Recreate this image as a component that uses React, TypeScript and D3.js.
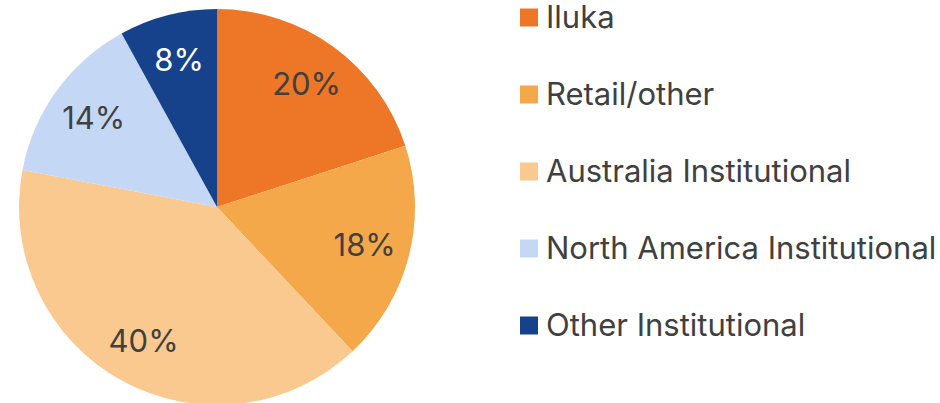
import React from "react";
import * as d3 from "d3";

const categories = ["Iluka", "Retail/other", "Australia Institutional", "North America Institutional", "Other Institutional"];
const shares = [20, 18, 40, 14, 8];
const colors = ["#ED7627", "#F5A84A", "#FAC98F", "#C4D8F5", "#15428A"];
const labelColors = ["#404040", "#404040", "#404040", "#404040", "#FFFFFF"];

const W = 940, H = 403;
const cx = 217, cy = 207, R = 198;

export default function App() {
  const data = categories.map((c, i) => ({ name: c, value: shares[i] }));
  const pie = d3.pie<any>().value(d => d.value).sort(null);
  const arcs = pie(data);
  const arc = d3.arc<any>().innerRadius(0).outerRadius(R);
  const labelArc = d3.arc<any>().innerRadius(R * 0.77).outerRadius(R * 0.77);

  const legendY = d3.scalePoint<string>().domain(categories).range([17, 325]);

  return (
    <svg width={W} height={H} style={{ position: "absolute", left: 0, top: 0 }} fontFamily="Inter, sans-serif">
      <g transform={`translate(${cx},${cy})`}>
        {arcs.map((a, i) => (
          <path key={i} d={arc(a) || ""} fill={colors[i]} />
        ))}
        {arcs.map((a, i) => {
          const [x, y] = labelArc.centroid(a);
          return (
            <text key={i} x={x} y={y} dy="0.36em" textAnchor="middle" fontSize={31} fill={labelColors[i]}>
              {shares[i]}%
            </text>
          );
        })}
      </g>
      <g>
        {categories.map((c, i) => (
          <g key={c} transform={`translate(520,${legendY(c)})`}>
            <rect x={0} y={-8.5} width={18} height={18} fill={colors[i]} />
            <text x={26} y={0} dy="0.36em" fontSize={31} fill="#404040">{c}</text>
          </g>
        ))}
      </g>
    </svg>
  );
}
